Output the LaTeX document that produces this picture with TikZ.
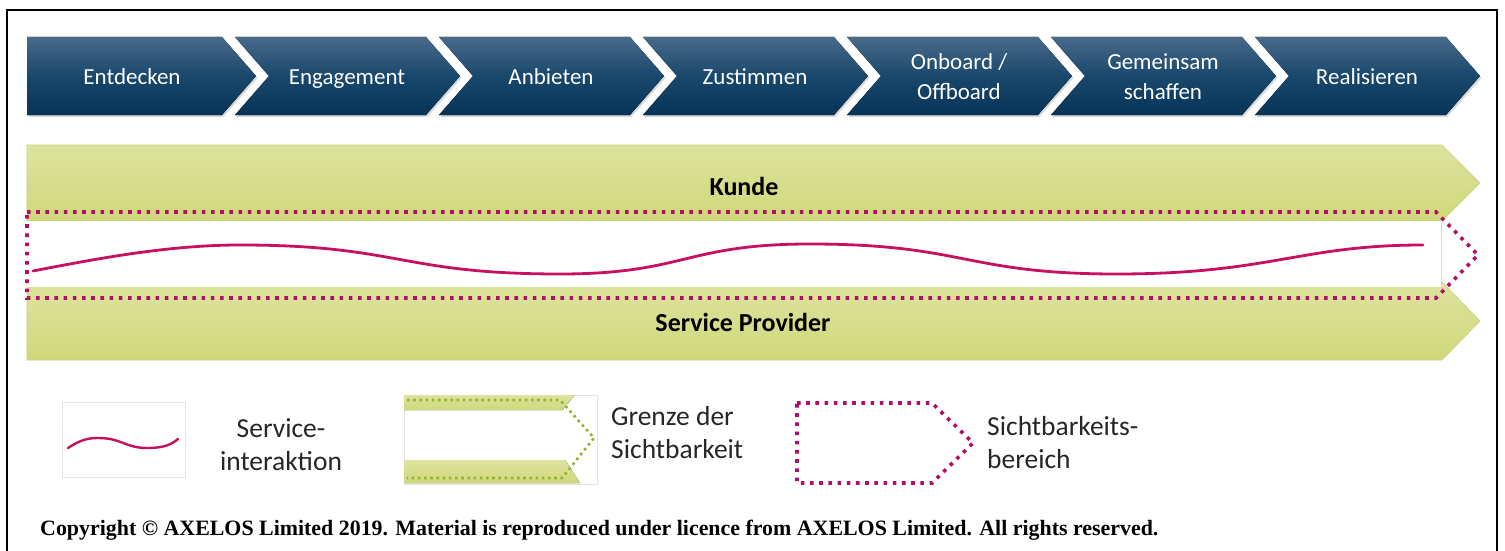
\documentclass[tikz,border=0pt]{standalone}
\usepackage{fontspec}
\setmainfont{Liberation Serif}
\newfontfamily\calfont{Carlito}
\usetikzlibrary{shadows}
\definecolor{navytop}{RGB}{74,106,138}
\definecolor{navymid}{RGB}{24,72,108}
\definecolor{navybot}{RGB}{6,52,88}
\definecolor{grtop}{RGB}{221,227,158}
\definecolor{grbot}{RGB}{207,216,122}
\definecolor{grline}{RGB}{200,210,120}
\definecolor{mag}{RGB}{176,14,104}
\definecolor{wavec}{RGB}{200,16,96}
\definecolor{dotgreen}{RGB}{150,178,50}
\definecolor{txt}{RGB}{38,38,38}
\tikzset{
  chev/.style={top color=navytop, bottom color=navybot, middle color=navymid,
    drop shadow={opacity=0.3, shadow xshift=1.5pt, shadow yshift=-2pt}},
  chevtext/.style={text=white, font=\calfont\fontsize{23}{30}\selectfont, align=center, inner sep=0pt},
  greenarrow/.style={top color=grtop, bottom color=grbot, draw=grline, line width=0.6pt},
  bandtext/.style={font=\calfont\bfseries\fontsize{26}{30}\selectfont, text=black, inner sep=0pt},
  magdot/.style={draw=mag, line width=3.6pt, dash pattern=on 3.6pt off 5.6pt},
  wave/.style={draw=wavec, line width=2.8pt, line cap=round},
  legtext/.style={font=\calfont\fontsize{27.5}{33}\selectfont, text=txt, inner sep=0pt},
  legbox/.style={draw=black!10, fill=white, line width=0.8pt},
  greendot/.style={draw=dotgreen, line width=2.6pt, dash pattern=on 2.6pt off 3.6pt},
}
\begin{document}
\begin{tikzpicture}[x=1pt,y=-1pt]
\useasboundingbox (0,0) rectangle (1505,551);
% frame
\draw[line width=2.6pt] (7,600) -- (7,10) -- (1497,10) -- (1497,600);
% chevrons
\fill[chev] (27,37) -- (222,37) -- (256,76) -- (222,115) -- (27,115) -- cycle;
\foreach \k in {2,...,7}{
  \pgfmathsetmacro{\R}{222+204*(\k-1)}
  \pgfmathsetmacro{\L}{\R-191}
  \fill[chev] (\L,37) -- (\R,37) -- ({\R+34},76) -- (\R,115) -- (\L,115) -- ({\L+34},76) -- cycle;
}
\node[chevtext, anchor=base] (c1) at (132,84.5) {Entdecken};
\node[chevtext, anchor=base] (c2) at (347,84.5) {Engagement};
\node[chevtext, anchor=base] (c3) at (551,84.5) {Anbieten};
\node[chevtext, anchor=base] (c4) at (755,84.5) {Zustimmen};
\node[chevtext] (c5) at (959,77) {Onboard /\\Offboard};
\node[chevtext] (c6) at (1163,77) {Gemeinsam\\schaffen};
\node[chevtext, anchor=base] (c7) at (1367,84.5) {Realisieren};
% green bands
\path[greenarrow] (27,145) -- (1442,145) -- (1480,183) -- (1442,221) -- (27,221) -- cycle;
\path[greenarrow] (27,282) -- (1442,282) -- (1480,321) -- (1442,360) -- (27,360) -- cycle;
\fill[white] (27,221) rectangle (1441,287);
\draw[black!15, line width=0.6pt] (1441,221) -- (1441,287);
\node[bandtext] (kunde) at (744,186) {Kunde};
\node[bandtext] (sp) at (743,322) {Service Provider};
% visibility region
\draw[magdot] (27,212) -- (1436,212) -- (1478,255) -- (1436,298) -- (27,298) -- cycle;
% service interaction
\draw[wave] (33,271) .. controls (100,258) and (170,245) .. (240,245)
  .. controls (400,245) and (400,274) .. (560,274)
  .. controls (685,274) and (685,244) .. (810,244)
  .. controls (965,244) and (965,274) .. (1117,274)
  .. controls (1270,274) and (1300,245) .. (1423,245);
% legend 1
\draw[legbox] (62,402) rectangle (185,477);
\draw[wave, line width=2.4pt] (68,448) .. controls (80,440) and (88,438) .. (98,438)
  .. controls (122,438) and (125,448) .. (147,448)
  .. controls (165,448) and (172,444) .. (178,439);
\node[legtext, align=center] (l1) at (281,445) {Service-\\interaktion};
% legend 2
\draw[legbox] (404,395) rectangle (597,484);
\fill[top color=grtop, bottom color=grbot] (404,395) -- (575,395) -- (562,410) -- (404,410) -- cycle;
\fill[top color=grtop, bottom color=grbot] (404,460) -- (565,460) -- (580,483) -- (404,483) -- cycle;
\draw[greendot] (407,400) -- (560,400) -- (594,438) -- (562,478) -- (407,478);
\node[legtext, anchor=west, align=left] (l2) at (611,433) {Grenze der\\Sichtbarkeit};
% legend 3
\draw[magdot] (797,403) -- (932,403) -- (973,443) -- (932,483) -- (797,483) -- cycle;
\node[legtext, anchor=west, align=left] (l3) at (987,443) {Sichtbarkeits-\\bereich};
% copyright
\node[anchor=west, inner sep=0pt, font=\bfseries\fontsize{21.9}{24}\selectfont] (copy) at (40,530)
  {Copyright © AXELOS Limited 2019. Material is reproduced under licence from AXELOS Limited. All rights reserved.};
\end{tikzpicture}
\end{document}
